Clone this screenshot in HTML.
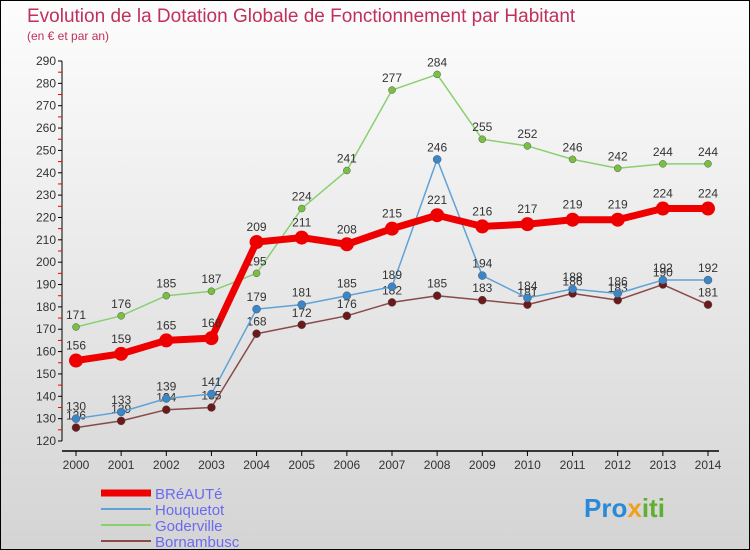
<!DOCTYPE html>
<html><head><meta charset="utf-8"><style>
body{margin:0;}
#c{width:750px;height:550px;position:relative;box-sizing:border-box;border:1px solid #000;background:linear-gradient(#fdfdfd,#d4d4d4);font-family:"Liberation Sans",sans-serif;overflow:hidden}
</style></head><body>
<div id="c">
<svg id="s" width="748" height="548" style="position:absolute;left:0;top:0">
<text x="26" y="21" font-size="19" fill="#c0305a">Evolution de la Dotation Globale de Fonctionnement par Habitant</text>
<text x="26" y="39" font-size="12" fill="#c0305a">(en € et par an)</text>
<g id="axes"></g><g id="series"></g>
<g>
<line x1="100" y1="492" x2="150" y2="492" stroke="#e00" stroke-width="7"/>
<text x="154" y="498" font-size="15" fill="#6a6aee">BRéAUTé</text>
<line x1="100" y1="508" x2="150" y2="508" stroke="#5fa2d8" stroke-width="2"/>
<text x="154" y="514" font-size="15" fill="#6a6aee">Houquetot</text>
<line x1="100" y1="524" x2="150" y2="524" stroke="#88d070" stroke-width="2"/>
<text x="154" y="530" font-size="15" fill="#6a6aee">Goderville</text>
<line x1="100" y1="540" x2="150" y2="540" stroke="#8a4a4a" stroke-width="2"/>
<text x="154" y="546" font-size="15" fill="#6a6aee">Bornambusc</text>
</g>
<text x="583" y="516" font-size="26" font-weight="bold" fill="#2a8ad8">Pro<tspan fill="#f0a020">x</tspan><tspan fill="#60b030">iti</tspan></text>
</svg>
</div>
<script>
const years=[2000,2001,2002,2003,2004,2005,2006,2007,2008,2009,2010,2011,2012,2013,2014];
const breaute=[156,159,165,166,209,211,208,215,221,216,217,219,219,224,224];
const houquetot=[130,133,139,141,179,181,185,189,246,194,184,188,186,192,192];
const goderville=[171,176,185,187,195,224,241,277,284,255,252,246,242,244,244];
const bornambusc=[126,129,134,135,168,172,176,182,185,183,181,186,183,190,181];
const yTicks=[120,130,140,150,160,170,180,190,200,210,220,230,240,250,260,270,280,290];
const NS="http://www.w3.org/2000/svg";
const X=i=>75+i*(632/(years.length-1));
const Y=v=>440-(v-120)*(380/170);
function mk(t,a,p){const e=document.createElementNS(NS,t);for(const k in a)e.setAttribute(k,a[k]);p.appendChild(e);return e;}
const ax=document.getElementById('axes'),se=document.getElementById('series');
let l=mk('line',{x1:61,y1:Y(290),x2:61,y2:Y(120),stroke:'#000'},ax);


l=mk('line',{x1:61,y1:450,x2:718,y2:450,stroke:'#000','stroke-width':1.5},ax);


yTicks.forEach(v=>{
 mk('line',{x1:57,y1:Y(v),x2:61,y2:Y(v),stroke:'#000'},ax);
 if(v<290)mk('line',{x1:57,y1:Y(v+5),x2:61,y2:Y(v+5),stroke:'#e00'},ax);
 const t=mk('text',{x:55,y:Y(v)+4,'font-size':12,fill:'#333','text-anchor':'end'},ax);t.textContent=v;
 
 
});
years.forEach((y,i)=>{
 mk('line',{x1:X(i),y1:450,x2:X(i),y2:455,stroke:'#000'},ax);
 const t=mk('text',{x:X(i),y:468,'font-size':12,fill:'#333','text-anchor':'middle'},ax);t.textContent=y;
 
 
});
function draw(name,vals,col,lw,r,dot,dy){
 const g=mk('g',{},se);
 
 
 mk('polyline',{points:vals.map((v,i)=>X(i)+','+Y(v)).join(' '),fill:'none',stroke:col,'stroke-width':lw,'stroke-linejoin':'round'},g);
 vals.forEach((v,i)=>{
  const c=mk('circle',{cx:X(i),cy:Y(v),r:r,fill:dot,stroke:'#555','stroke-width':lw>3?0:0.5},g);
  
  
  const t=mk('text',{x:X(i),y:Y(v)+dy,'font-size':12,fill:'#333','text-anchor':'middle'},g);t.textContent=v;
  
  
 });
}
draw('bornambusc',bornambusc,'#8a4a4a',1.5,4,'#6a1a1a',-8);
draw('goderville',goderville,'#88d070',1.5,3.5,'#7ac040',-8);
draw('houquetot',houquetot,'#5fa2d8',1.5,4,'#3a86c8',-8);
draw('breaute',breaute,'#ee0000',7,7,'#ee0000',-11);
</script>
</body></html>
